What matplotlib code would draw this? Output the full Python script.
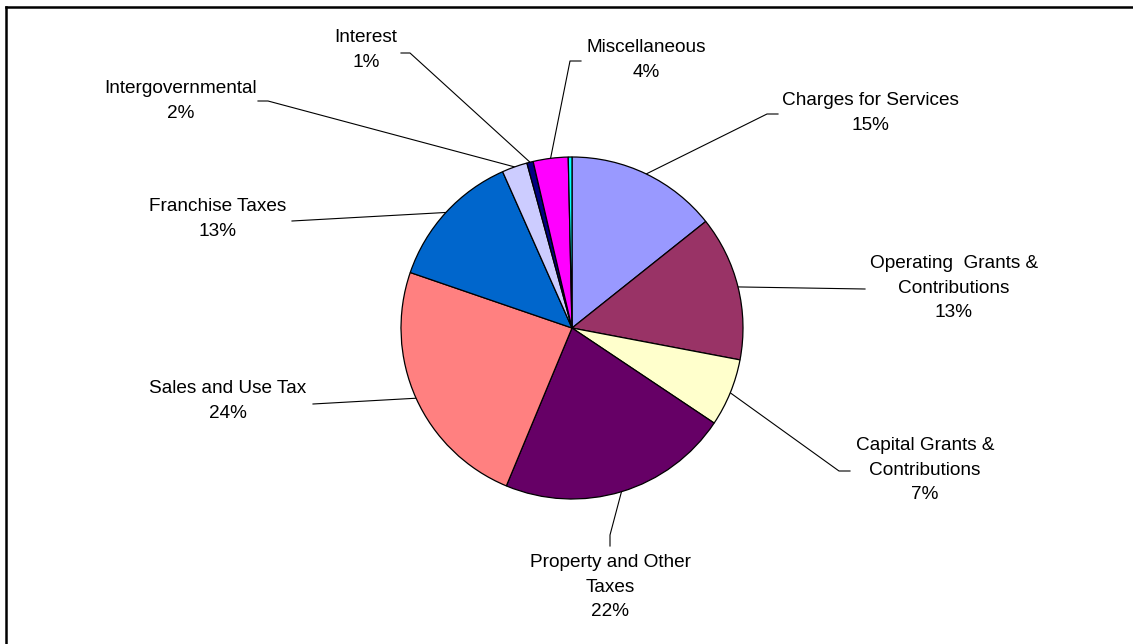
import matplotlib

matplotlib.use('Agg')
import matplotlib.pyplot as plt
import numpy as np

# Slices clockwise from 12 o'clock
categories = ['Charges for Services', 'Operating  Grants &\nContributions',
              'Capital Grants &\nContributions', 'Property and Other\nTaxes',
              'Sales and Use Tax', 'Franchise Taxes', 'Intergovernmental',
              'Interest', 'Miscellaneous', '']
values = [14.3, 13.7, 6.4, 21.9, 24.0, 13.1, 2.4, 0.6, 3.3, 0.35]
pct_labels = ['15%', '13%', '7%', '22%', '24%', '13%', '2%', '1%', '4%', '']
colors = ['#9999FF', '#993366', '#FFFFCC', '#660066', '#FF8080', '#0066CC',
          '#CCCCFF', '#000080', '#FF00FF', '#00FFFF']

# label block centres and leader-line bends (pixel layout)
label_pos = [(870, 113), (954, 288), (925, 470), (610, 587), (228, 401),
             (218, 219), (181, 101), (366, 50), (646, 60), None]
leader_start = [[(778, 114), (767, 114)], [(865, 289)], [(850, 471), (839, 471)],
                [(610, 546), (610, 535)], [(313, 404)], [(292, 221)],
                [(258, 101), (268, 101)], [(401, 53), (410, 53)],
                [(581, 61), (570, 61)], None]

W, H = 1133, 644
fig = plt.figure(figsize=(W / 100, H / 100), dpi=100)
ax = fig.add_axes([0, 0, 1, 1])

center = (572, 328)
radius = 171
wedges, _ = ax.pie(values, colors=colors, startangle=-90, counterclock=True,
                   center=center, radius=radius, frame=True,
                   wedgeprops=dict(edgecolor='black', linewidth=0.9))
ax.set_xlim(0, W)
ax.set_ylim(H, 0)
ax.set_aspect('equal')
ax.axis('off')

for w, name, pct, pos, pts in zip(wedges, categories, pct_labels, label_pos, leader_start):
    if pos is None:
        continue
    mid = np.deg2rad((w.theta1 + w.theta2) / 2)
    edge = (center[0] + radius * np.cos(mid), center[1] + radius * np.sin(mid))
    xs = [p[0] for p in pts] + [edge[0]]
    ys = [p[1] for p in pts] + [edge[1]]
    ax.plot(xs, ys, color='black', linewidth=0.8, zorder=0)
    ax.text(pos[0], pos[1], f'{name}\n{pct}', ha='center', va='center',
            fontsize=13.7, family='Liberation Sans', linespacing=1.55)

# chart-area border (top and left edges visible)
ax.plot([6, 6], [H + 5, 7], color='black', linewidth=1.8, clip_on=False)
ax.plot([6, W + 5], [7, 7], color='black', linewidth=1.8, clip_on=False)

fig.savefig('out.png', dpi=100)
